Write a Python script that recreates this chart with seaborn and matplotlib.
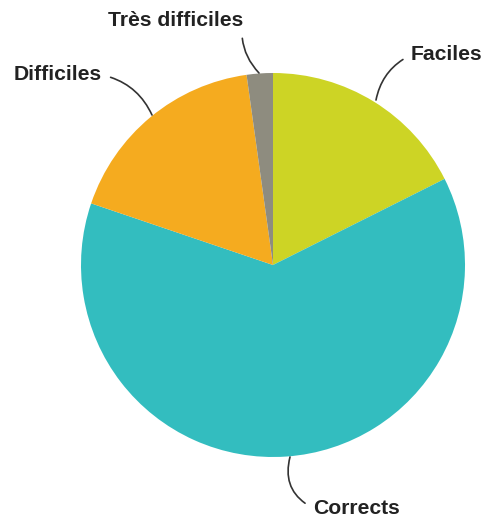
import matplotlib.pyplot as plt
import seaborn as sns

# data (percent of answers)
categories = ['Faciles', 'Corrects', 'Difficiles', 'Très difficiles']
values = [17.6, 62.6, 17.6, 2.2]
colors = ['#CDD425', '#33BDBF', '#F5AB1F', '#8E8C7F']

sns.set_theme(style='white')
plt.rcParams['font.family'] = ['Liberation Sans', 'DejaVu Sans']

fig = plt.figure(figsize=(4.98, 5.19), dpi=100)
ax = fig.add_axes([0, 0, 1, 1])
ax.pie(values, colors=colors, startangle=90, counterclock=False,
       radius=192, wedgeprops=dict(linewidth=0))
ax.set_xlim(-273, 498 - 273)
ax.set_ylim(-(519 - 265), 265)
ax.set_aspect('equal')
ax.axis('off')

# label positions (axes in pixel offsets from the pie centre)
label_pos = {
    'Faciles': ((103, 165), (138, 210), 'left', 0.25),
    'Corrects': ((17, -192), (40, -243), 'left', -0.4),
    'Difficiles': ((-121, 150), (-171, 190), 'right', -0.25),
    'Très difficiles': ((-14, 192), (-30, 245), 'right', 0.25),
}
for name in categories:
    xy, xytext, ha, rad = label_pos[name]
    ax.annotate(name, xy=xy, xytext=xytext, ha=ha, va='center',
                fontsize=15.2, fontweight='bold', color='#222222',
                arrowprops=dict(arrowstyle='-', color='#333333', lw=1.2,
                                shrinkA=4, shrinkB=0,
                                relpos=(0, 0.5) if ha == 'left' else (1, 0.5),
                                connectionstyle=f'arc3,rad={rad}'))

fig.savefig('out.png', dpi=100)
